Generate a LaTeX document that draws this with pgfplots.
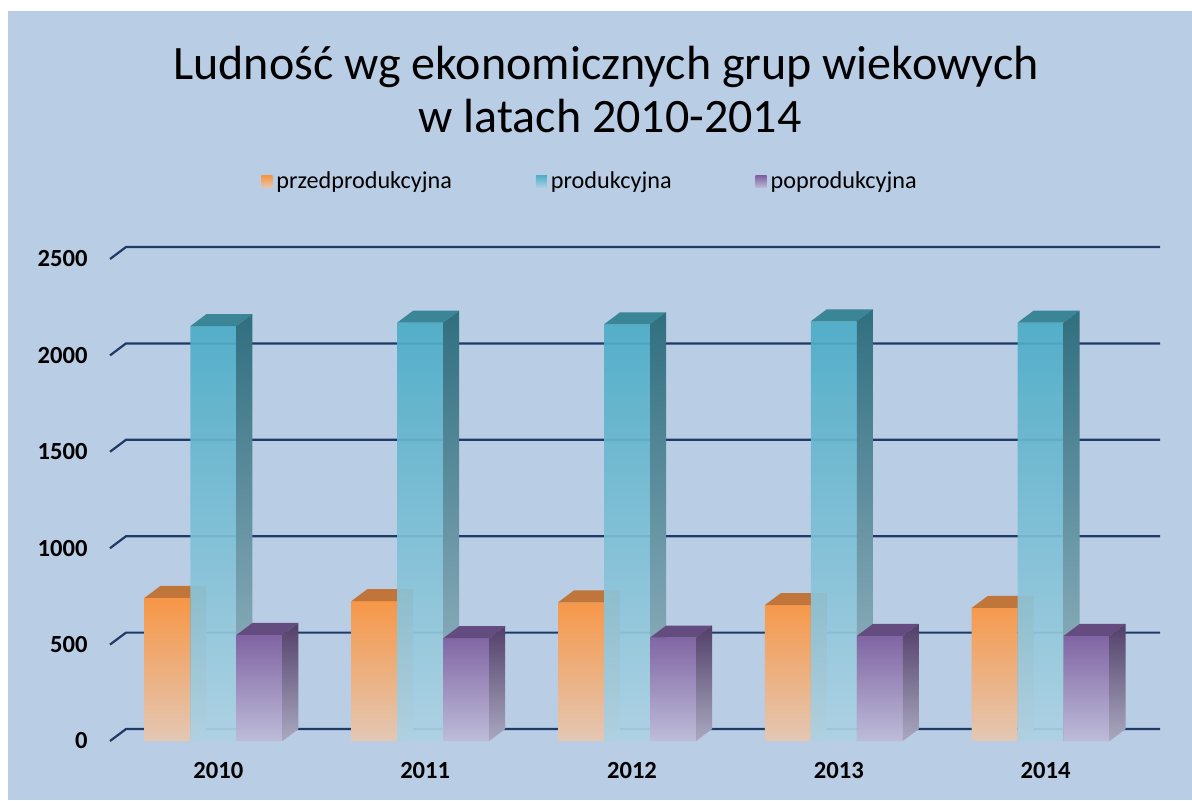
\documentclass[border=0pt]{standalone}
\usepackage{fontspec}
\setmainfont{Carlito}
\usepackage{pgfplots}
\pgfplotsset{compat=1.18}
\pgfdeclareplotmark{empty}{}
\definecolor{bgblue}{HTML}{B9CDE5}
\definecolor{paleb}{HTML}{D8E2F0}
\definecolor{gridc}{HTML}{1F3A64}
\definecolor{orgF}{HTML}{F79646}
\definecolor{orgT}{HTML}{C0763A}
\definecolor{orgS}{HTML}{A86C3C}
\definecolor{teaF}{HTML}{4BACC6}
\definecolor{teaT}{HTML}{3A8696}
\definecolor{teaS}{HTML}{306F7F}
\definecolor{purF}{HTML}{8064A2}
\definecolor{purT}{HTML}{654C80}
\definecolor{purS}{HTML}{533F69}
\colorlet{orgB}{orgF!35!paleb}
\colorlet{teaB}{teaF!30!paleb}
\colorlet{purB}{purF!30!paleb}

\pgfplotsset{
  faces/.style n args={4}{
    scatter, only marks, mark=empty, forget plot,
    visualization depends on={rawy \as \rawy},
    scatter/@pre marker code/.code={%
        \path[draw=none, fill=#2] ({#1-11.5pt},0pt) -- ({#1-3.5pt},6pt) -- ({#1+19.5pt},6pt) -- ({#1+11.5pt},0pt) -- cycle;
        \path[draw=none, top color=#3, middle color=#3, bottom color=#4]
          ({#1+11.5pt},0pt) -- ({#1+19.5pt},6pt) -- ({#1+19.5pt},{6pt-\rawy*0.0964pt}) -- ({#1+11.5pt},{-\rawy*0.0964pt}) -- cycle;
      },
    scatter/@post marker code/.code={},
  }
}

\begin{document}
\begin{tikzpicture}[x=1pt,y=1pt]
\fill[white] (0,0) rectangle (596,400);
\useasboundingbox (0,0) rectangle (596,400);
\fill[bgblue] (4,0) rectangle (596,394.5);
\node[anchor=base, inner sep=0pt, font=\fontsize{24}{28}\selectfont] at (303,360) {Ludność wg ekonomicznych grup wiekowych};
\node[anchor=base, inner sep=0pt, font=\fontsize{24}{28}\selectfont] at (305,334) {w latach 2010-2014};
\begin{axis}[
  at={(55pt,29.5pt)}, anchor=south west,
  scale only axis, width=517pt, height=241pt,
  xmin=-0.5, xmax=4.5, ymin=0, ymax=2500,
  ytick={0,500,1000,1500,2000,2500},
  xtick={0,1,2,3,4}, xticklabels={2010,2011,2012,2013,2014},
  axis line style={draw=none}, major tick length=0pt,
  clip=false, clip marker paths=true,
  /pgf/number format/assume math mode=true,
  /pgf/number format/1000 sep={},
  ticklabel style={font=\bfseries\fontsize{12.3}{14}\selectfont},
  yticklabel style={anchor=east, inner sep=0pt, xshift=-11pt},
  xticklabel style={anchor=center, inner sep=0pt, yshift=-15pt, xshift=2.5pt},
  legend columns=3,
  legend cell align=left,
  legend style={draw=none, fill=none, at={(0.146,1.16)}, anchor=west, inner sep=0pt,
    font=\fontsize{12.1}{14}\selectfont,
    /tikz/every even column/.append style={column sep=40pt}},
  legend image code/.code={\path[#1] (0pt,-3pt) rectangle (5.5pt,3pt);},
]
\pgfplotsinvokeforeach{0,500,1000,1500,2000,2500}{
  \draw[gridc, line width=1.1pt] (axis cs:-0.5,#1) -- ++(8pt,6pt) -- ([shift={(8pt,6pt)}]axis cs:4.5,#1);
}
% przedprodukcyjna
\addplot[ybar, bar width=23pt, bar shift=-23pt, draw=none, top color=orgF, middle color=orgF, bottom color=orgB]
  coordinates {(0,742) (1,725) (2,719) (3,705) (4,690)};
\addlegendentry{przedprodukcyjna}
\addplot[faces={-23pt}{orgT}{orgS}{orgS!30!paleb}]
  coordinates {(0,742) (1,725) (2,719) (3,705) (4,690)};
% produkcyjna
\addplot[ybar, bar width=23pt, bar shift=0pt, draw=none, fill opacity=0.92, top color=teaF, middle color=teaF, bottom color=teaB]
  coordinates {(0,2152) (1,2170) (2,2161) (3,2177) (4,2170)};
\addlegendentry{produkcyjna}
\addplot[faces={0pt}{teaT}{teaS}{teaS!35!paleb}]
  coordinates {(0,2152) (1,2170) (2,2161) (3,2177) (4,2170)};
% poprodukcyjna
\addplot[ybar, bar width=23pt, bar shift=23pt, draw=none, top color=purF, middle color=purF, bottom color=purB]
  coordinates {(0,550) (1,533) (2,536) (3,545) (4,545)};
\addlegendentry{poprodukcyjna}
\addplot[faces={23pt}{purT}{purS}{purS!35!paleb}]
  coordinates {(0,550) (1,533) (2,536) (3,545) (4,545)};
\end{axis}
\end{tikzpicture}
\end{document}
